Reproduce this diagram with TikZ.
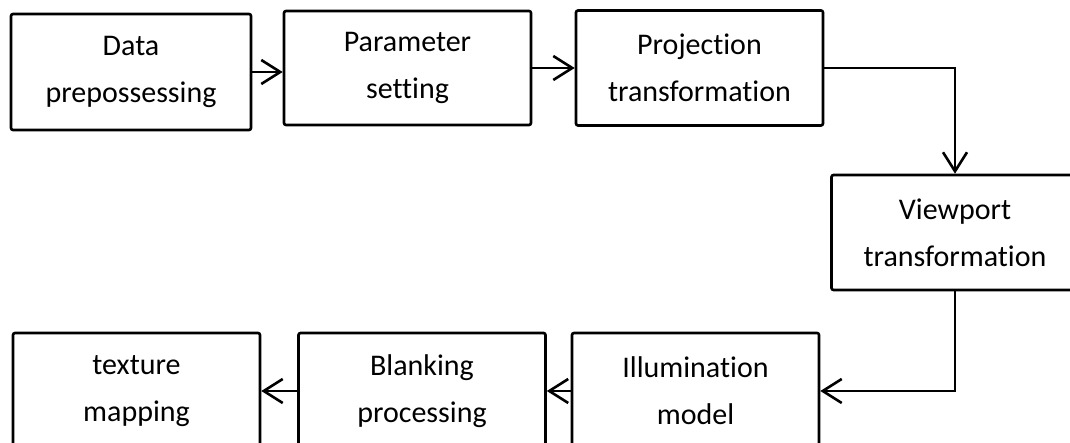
\documentclass[tikz,border=0pt]{standalone}
\usepackage{fontspec}
\setmainfont{Carlito}[Ligatures={NoCommon}]
\usetikzlibrary{arrows.meta}
\begin{document}
\begin{tikzpicture}[x=1pt,y=1pt,
    stagebox/.style={draw,line width=2.6pt,rounded corners=2pt,align=center,
      minimum width=247pt,minimum height=115pt,inner sep=0pt,
      font=\fontsize{30}{47}\selectfont},
    flow/.style={line width=2.6pt,-{Straight Barb[length=19pt,width=24pt]}}]
        \clip (0,0) rectangle (1070,443);
        \node[stagebox,minimum width=240pt,minimum height=116pt] (data) at (131,371) {Data\\prepossessing};
        \node[stagebox,minimum height=114pt] (param) at (407.5,375) {Parameter\\setting};
        \node[stagebox] (proj) at (699.5,375) {Projection\\transformation};
        \node[stagebox] (view) at (955,210.5) {Viewport\\transformation};
        \node[stagebox,minimum height=116pt] (illum) at (695.5,52) {Illumination\\model};
        \node[stagebox,minimum height=116pt] (blank) at (422,52) {Blanking\\processing};
        \node[stagebox,minimum height=116pt] (tex) at (136.5,52) {texture\\mapping};
        \draw[flow] (data.east) -- (data.east -| param.west);
        \draw[flow] (param.east) -- (proj.west);
        \draw[flow] (proj.east) -| (view.north);
        \draw[flow] (view.south) |- (illum.east);
        \draw[flow] (illum.west) -- (blank.east);
        \draw[flow] (blank.west) -- (tex.east);
    \end{tikzpicture}
\end{document}
